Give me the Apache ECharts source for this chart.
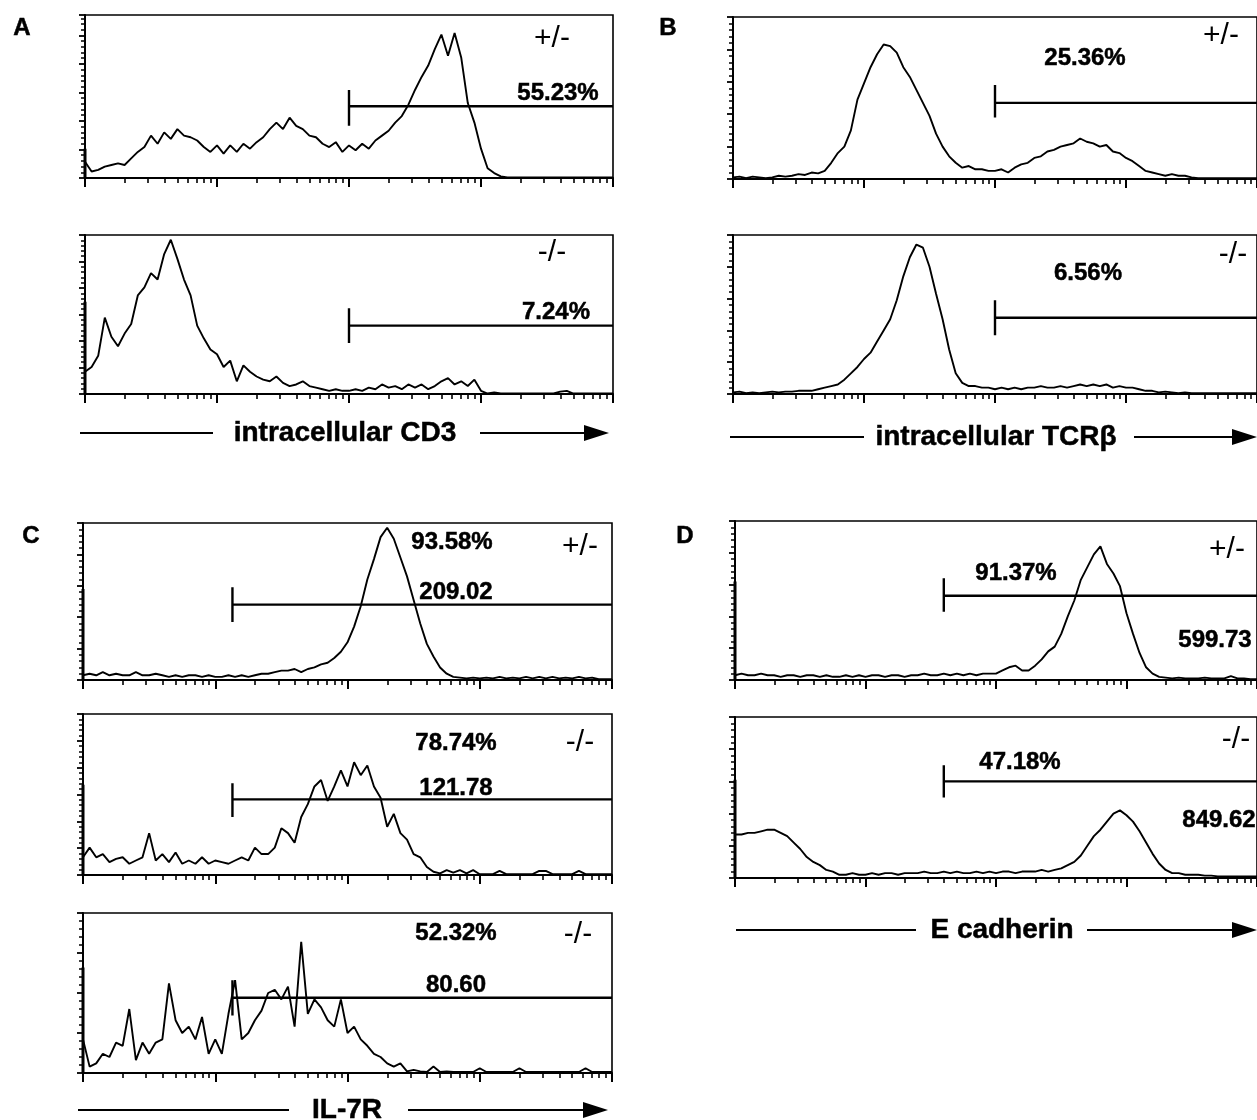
<!DOCTYPE html>
<html>
<head>
<meta charset="utf-8">
<script src="https://cdn.jsdelivr.net/npm/echarts@6/dist/echarts.min.js"></script>
<style>
  html, body { margin: 0; padding: 0; background: #fff; }
  #main { width: 1257px; height: 1120px; }
</style>
</head>
<body>
<div id="main"></div>
<script>
// histogram heights (% of panel height), one value every 0.05 decade, 0..4 decades
const a1 = [10,4,5,7,8,9,8,12,16,19,
  26,21,28,24,30,26,25,23,19,16,
  20,15,20,16,21,18,22,25,30,34,
  30,37,32,30,26,25,21,19,22,16,
  20,17,21,18,23,26,29,34,38,45,
  54,62,69,79,88,75,89,74,46,34,
  18,6,3,1,0.3,0.3,0.3,0.3,0.3,0.3,
  0.3,0.3,0.3,0.3,0.3,0.3,0.3,0.3,0.3,0.3,
  0.3]
const a2 = [14,17,24,48,36,30,38,44,62,67,
  76,72,88,97,85,72,62,43,35,28,
  25,17,21,8,18,14,11,9,8,11,
  7,5,6,8,5,4,3,2,3,2,
  2,3,2,4,3,6,4,5,3,6,
  4,6,3,5,8,10,6,8,5,9,
  2,0.3,1,0.3,0.3,0.3,0.3,0.3,0.3,0.3,
  0.3,0.3,1.5,2,0.3,0.3,0.3,0.3,0.3,0.3,
  0.3]
const b1 = [1,1.5,0.5,1.5,1,0.5,1,2,1.5,2,
  3,2.5,4,3.5,5,10,16,20,30,49,
  59,69,77,83,82,78,69,63,55,47,
  39,28,20,14,10,7,8,6,6,5,
  5,6,4,7,9,10,13,14,17,18,
  20,21,22,25,23,22,20,21,17,16,
  13,11,8,5,4,3,2,3,2,2,
  1,0.5,0.5,0.5,0.5,0.5,0.5,0.5,0.5,0.5,
  0.5]
const b2 = [1,1.5,0.5,1,0.5,1,1.5,1,1.5,1.5,
  2,2,2,3,4,5,6,9,13,17,
  22,26,33,40,47,59,74,86,94,92,
  80,63,47,28,13,7,5,5,4,4,
  3,4,3,4,3,4,4,5,4,4,
  5,4,5,6,5,6,5,6,4,5,
  4,4,3,2,2,1,1.5,1,0.5,1,
  0.5,0.5,0.5,0.5,0.5,0.5,0.5,0.5,0.5,0.5,
  0.5]
const c1 = [3,4,3,5,3,4,3,3,5,3,
  3,4,3,2,3,2,3,3,2,3,
  2,2,3,2,3,2,3,4,4,5,
  6,6,7,5,7,8,10,11,14,18,
  24,34,47,64,77,91,97,90,78,66,
  51,36,23,15,8,4,2,1.5,1,1.5,
  1,1.5,1,2,1,1.5,1,2,1,2,
  1,2,1,1.5,1,2,1,1.5,0.5,0.5,
  0.5]
const c2 = [11,17,11,13,8,10,11,7,9,11,
  26,9,13,8,14,7,9,7,11,7,
  9,8,7,9,11,9,17,13,13,17,
  29,26,20,36,44,55,59,46,55,65,
  55,70,62,68,55,48,30,38,26,22,
  13,11,5,2,1,3,1.5,3,1,3,
  0.5,0.5,0.5,2.5,0.5,0.5,0.5,0.5,0.5,2.5,
  2.5,0.5,0.5,0.5,0.5,2.5,0.5,0.5,0.5,0.5,
  0.5]
const c3 = [21,4,6,12,10,19,17,40,8,19,
  12,19,21,56,33,25,29,21,35,12,
  21,12,37,58,21,25,33,39,50,52,
  46,54,29,82,37,46,41,33,29,46,
  25,29,21,17,12,10,6,4,6,1,
  2,1,0.6,4,0.6,1,0.6,0.6,0.6,0.6,
  3,0.6,0.6,0.6,0.6,0.6,3,0.6,0.6,0.6,
  0.6,0.6,0.6,0.6,0.6,0.6,3,0.6,0.6,0.6,
  0.6]
const d1 = [3,4,3,3,4,3,3,2,3,3,
  2,3,3,2,3,2,2,3,2,3,
  2,3,3,2,3,3,2,3,3,4,
  3,3,4,3,4,3,4,3,4,4,
  4,6,8,9,6,6,9,13,18,21,
  29,40,50,63,71,79,84,73,67,59,
  42,29,17,8,4,2,1.5,1,1.5,1,
  1,1,1.5,1,1,1,2.5,1,1,0.5,
  0.5]
const d2 = [27,27,28,28,29,30,30,28,26,22,
  18,13,10,8,5,4,2,2,3,2,
  2,3,2,3,3,2,3,3,3,4,
  3,3,4,3,4,3,3,4,3,4,
  3,4,4,3,4,4,4,5,4,5,
  6,8,10,14,20,26,30,35,40,42,
  39,35,29,22,15,9,5,3,3,2,
  2,2,1.5,1.5,1,1,1,1,1,1,
  1]

// first-channel spike on the y axis, per panel
const chan0 = [18, 58, 0, 0, 58, 56, 66, 62, 61]
// gate markers: start (decades), bar height, vertical tick low/high (% of panel)
const gateX = [2.0, 2.0, 2.0, 2.0, 1.13, 1.13, 1.13, 1.6, 1.6]
const gateY = [44, 43, 47, 48, 48, 47, 47, 53, 60]
const gateLo = [32, 32, 38, 37, 37, 36, 36, 43, 50]
const gateHi = [54, 54, 58, 59, 59, 57, 58, 64, 70]

const series_data = [a1, a2, b1, b2, c1, c2, c3, d1, d2]
// [left, top, width, height], y tick step
const boxes = [
  [85, 15, 528, 163], [85, 235, 528, 159],
  [733, 17, 528, 162], [733, 235, 528, 159],
  [83, 523, 529, 157], [83, 714, 529, 161], [83, 913, 529, 160],
  [735, 521, 530, 159], [735, 717, 530, 161]
]
const ySteps = [17.5, 16.67, 20, 20, 20, 16.67, 25, 20, 20]

// log minor ticks 2..9 within each decade
const minorX = []
for (let d = 0; d < 4; d++) {
  for (let k = 2; k <= 9; k++) minorX.push(d + Math.log10(k))
}

const FONT = '"Liberation Sans", Arial, Helvetica, sans-serif'
const grid = [], xAxis = [], yAxis = [], series = []

series_data.forEach((vals, i) => {
  const b = boxes[i]
  grid.push({ left: b[0], top: b[1], width: b[2], height: b[3], show: true,
    borderColor: '#000', borderWidth: 1.6, backgroundColor: 'transparent' })
  xAxis.push({ gridIndex: i, type: 'value', position: 'bottom', min: 0, max: 4, interval: 1,
    axisLine: { lineStyle: { color: '#000', width: 2 } },
    axisTick: { length: 9, lineStyle: { color: '#000', width: 2 } },
    axisLabel: { show: false }, splitLine: { show: false } })
  xAxis.push({ gridIndex: i, type: 'value', position: 'bottom', min: 0, max: 4,
    axisLine: { show: false },
    axisTick: { length: 5, customValues: minorX, lineStyle: { color: '#000', width: 1.6 } },
    axisLabel: { show: false }, splitLine: { show: false } })
  yAxis.push({ gridIndex: i, type: 'value', min: 0, max: 100, interval: ySteps[i],
    axisLine: { show: true, lineStyle: { color: '#000', width: 2 } },
    axisTick: { show: true, length: 6, lineStyle: { color: '#000', width: 1.8 } },
    minorTick: { show: true, splitNumber: 5, length: 4, lineStyle: { color: '#000', width: 1.5 } },
    axisLabel: { show: false }, splitLine: { show: false }, minorSplitLine: { show: false } })

  series.push({ type: 'line', xAxisIndex: 2 * i, yAxisIndex: i, symbol: 'none',
    data: vals.map((v, k) => [k * 0.05, v]),
    lineStyle: { color: '#000', width: 1.9 }, silent: true })
  series.push({ type: 'line', xAxisIndex: 2 * i, yAxisIndex: i, symbol: 'none',
    data: [[0, 0], [0, chan0[i]]],
    lineStyle: { color: '#000', width: 3 }, silent: true })
  series.push({ type: 'line', xAxisIndex: 2 * i, yAxisIndex: i, symbol: 'none',
    data: [[gateX[i], gateLo[i]], [gateX[i], gateHi[i]], [gateX[i], gateY[i]], [4, gateY[i]]],
    lineStyle: { color: '#000', width: 2.4 }, silent: true })
})

// [text, x, y, size, weight]
const texts = [
  ['A', 22, 28, 24, 'bold'], ['B', 668, 28, 24, 'bold'],
  ['C', 31, 536, 24, 'bold'], ['D', 685, 536, 24, 'bold'],
  ['+/-', 552, 39, 30, 'normal'], ['55.23%', 558, 93, 24, 'bold'],
  ['-/-', 552, 253, 30, 'normal'], ['7.24%', 556, 312, 24, 'bold'],
  ['+/-', 1221, 36, 30, 'normal'], ['25.36%', 1085, 58, 24, 'bold'],
  ['-/-', 1233, 255, 30, 'normal'], ['6.56%', 1088, 273, 24, 'bold'],
  ['93.58%', 452, 542, 24, 'bold'], ['+/-', 580, 547, 30, 'normal'], ['209.02', 456, 592, 24, 'bold'],
  ['78.74%', 456, 743, 24, 'bold'], ['-/-', 580, 743, 30, 'normal'], ['121.78', 456, 788, 24, 'bold'],
  ['52.32%', 456, 933, 24, 'bold'], ['-/-', 578, 935, 30, 'normal'], ['80.60', 456, 985, 24, 'bold'],
  ['+/-', 1227, 550, 30, 'normal'], ['91.37%', 1016, 573, 24, 'bold'], ['599.73', 1215, 640, 24, 'bold'],
  ['-/-', 1236, 740, 30, 'normal'], ['47.18%', 1020, 762, 24, 'bold'], ['849.62', 1219, 820, 24, 'bold'],
  ['intracellular CD3', 345, 433, 28, 'bold'],
  ['intracellular TCRβ', 996, 437, 28, 'bold'],
  ['IL-7R', 347, 1110, 28, 'bold'],
  ['E cadherin', 1002, 930, 28, 'bold']
]
// axis title arrows: [lineStart, textLeftEnd, textRightStart, tipX, y]
const arrows = [
  [80, 213, 480, 609, 433],
  [730, 864, 1134, 1257, 437],
  [78, 289, 408, 608, 1110],
  [736, 916, 1087, 1257, 930]
]

const graphic = []
texts.forEach(t => {
  graphic.push({ type: 'text', x: t[1], y: t[2], silent: true,
    style: { text: t[0], fill: '#000', font: t[4] + ' ' + t[3] + 'px ' + FONT,
      stroke: t[4] === 'bold' ? '#000' : null, lineWidth: 0.5,
      textAlign: 'center', textVerticalAlign: 'middle' } })
})
arrows.forEach(a => {
  graphic.push({ type: 'line', silent: true, shape: { x1: a[0], y1: a[4], x2: a[1], y2: a[4] },
    style: { stroke: '#000', lineWidth: 2 } })
  graphic.push({ type: 'line', silent: true, shape: { x1: a[2], y1: a[4], x2: a[3] - 20, y2: a[4] },
    style: { stroke: '#000', lineWidth: 2 } })
  graphic.push({ type: 'polygon', silent: true,
    shape: { points: [[a[3] - 25, a[4] - 8], [a[3], a[4]], [a[3] - 25, a[4] + 8]] },
    style: { fill: '#000' } })
})

const chart = echarts.init(document.getElementById('main'))
chart.setOption({
  animation: false,
  backgroundColor: '#fff',
  grid, xAxis, yAxis, series, graphic
})
</script>
</body>
</html>
